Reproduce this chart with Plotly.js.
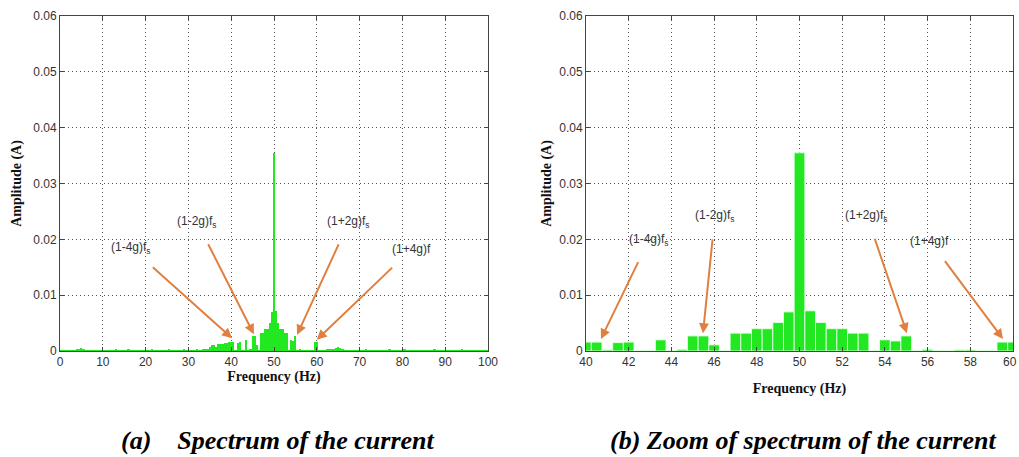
<!DOCTYPE html>
<html>
<head>
<meta charset="utf-8">
<script src="https://cdn.plot.ly/plotly-3.0.1.min.js"></script>
<style>html,body{margin:0;padding:0;background:#fff}#chart{width:1019px;height:457px}</style>
</head>
<body>
<div id="chart"></div>
<script>
// Frequency bin resolution (Hz)
const binStep = 0.5;

// Zoomed spectrum 40–60 Hz (amplitude, A)
const zoomFreq = [40,40.5,41,41.5,42,42.5,43,43.5,44,44.5,45,45.5,46,46.5,47,47.5,48,48.5,49,49.5,
                  50,50.5,51,51.5,52,52.5,53,53.5,54,54.5,55,55.5,56,56.5,57,57.5,58,58.5,59,59.5,60];
const zoomAmp = [0.0016,0.0016,0.0002,0.0015,0.0016,0.0001,0.0001,0.0020,0.0001,0.0003,
                 0.0027,0.0027,0.0011,0.0001,0.0032,0.0032,0.0040,0.0040,0.0051,0.0070,
                 0.0355,0.0072,0.0051,0.0040,0.0040,0.0032,0.0032,0.0001,0.0020,0.0018,
                 0.0027,0.0001,0.0003,0.0001,0.0001,0.0002,0.0002,0.0001,0.0001,0.0016,0.0016];

// Full spectrum, 0–39.5 Hz
const lowAmp = [0.0002,0.0002,0.0001,0.0002,0.0002,0.0002,0.0002,0.0002,0.0003,0.0003,
                0.0005,0.0004,0.0002,0.0002,0.0001,0.0002,0.0002,0.0002,0.0002,0.0002,
                0.0002,0.0001,0.0002,0.0002,0.0002,0.0002,0.0003,0.0002,0.0002,0.0002,
                0.0002,0.0002,0.0003,0.0002,0.0002,0.0002,0.0002,0.0001,0.0002,0.0002,
                0.0002,0.0002,0.0002,0.0003,0.0002,0.0002,0.0002,0.0002,0.0002,0.0002,
                0.0002,0.0003,0.0002,0.0002,0.0002,0.0002,0.0002,0.0002,0.0003,0.0002,
                0.0002,0.0002,0.0002,0.0002,0.0003,0.0002,0.0002,0.0003,0.0003,0.0004,
                0.0008,0.0010,0.0010,0.0008,0.0012,0.0013,0.0013,0.0014,0.0015,0.0017];
// Full spectrum, 60.5–100 Hz
const highAmp = [0.0002,0.0002,0.0002,0.0002,0.0003,0.0003,0.0003,0.0004,0.0005,
                 0.0008,0.0005,0.0003,0.0002,0.0002,0.0002,0.0002,0.0002,0.0002,0.0002,
                 0.0002,0.0002,0.0002,0.0003,0.0002,0.0002,0.0002,0.0002,0.0002,0.0002,
                 0.0002,0.0002,0.0002,0.0002,0.0003,0.0002,0.0002,0.0002,0.0002,0.0002,
                 0.0002,0.0003,0.0002,0.0002,0.0002,0.0002,0.0002,0.0002,0.0002,0.0002,
                 0.0002,0.0002,0.0002,0.0002,0.0002,0.0003,0.0002,0.0002,0.0002,0.0002,
                 0.0002,0.0002,0.0002,0.0002,0.0002,0.0002,0.0002,0.0002,0.0003,0.0002,
                 0.0002,0.0002,0.0002,0.0002,0.0002,0.0002,0.0002,0.0002,0.0002,0.0002,0.0002];

const leftAmp = lowAmp.concat(zoomAmp, highAmp);
const leftFreq = leftAmp.map((_, i) => i * binStep);

const leftTicks = [0,10,20,30,40,50,60,70,80,90,100];
const zoomTicks = [40,42,44,46,48,50,52,54,56,58,60];
const ampTicks = [0,0.01,0.02,0.03,0.04,0.05,0.06];
const ampTickText = ['0','0.01','0.02','0.03','0.04','0.05','0.06'];

// Annotation labels: [text, textX, textY, headX, headY]
const leftLabels = [
  ['(1-4g)f<sub>s</sub>', 16.6, 0.0185, 40.2, 0.0023],
  ['(1-2g)f<sub>s</sub>', 32.0, 0.0231, 45.3, 0.0030],
  ['(1+2g)f<sub>s</sub>', 67.5, 0.0231, 55.4, 0.0029],
  ['(1+4g)f', 82.2, 0.0183, 60.0, 0.0020]
];
const zoomLabels = [
  ['(1-4g)f<sub>s</sub>', 42.95, 0.0199, 40.7, 0.00215],
  ['(1-2g)f<sub>s</sub>', 46.04, 0.0242, 45.48, 0.0032],
  ['(1+2g)f<sub>s</sub>', 53.16, 0.0242, 55.03, 0.0032],
  ['(1+4g)f', 56.11, 0.0197, 59.53, 0.00215]
];

const green = '#22e822';
const arrowColor = '#e08040';

const traces = [
  {type:'bar', x:leftFreq, y:leftAmp, width:binStep, marker:{color:green, line:{width:0}},
   xaxis:'x', yaxis:'y', hoverinfo:'x+y'},
  {type:'bar', x:zoomFreq, y:zoomAmp, width:binStep, marker:{color:green, line:{width:1, color:'rgba(230,255,230,0.9)'}},
   xaxis:'x2', yaxis:'y2', hoverinfo:'x+y'}
];

const tickFont = {family:'Liberation Sans, Arial, sans-serif', size:12, color:'#333'};
const titleFont = {family:'Liberation Serif, Times New Roman, serif', size:14, color:'#111', weight:'bold'};
const gridDash = '1px,3px';

function xAxis(domain, range, ticks, anchor, standoff, labels) {
  return {domain, range, tickvals:ticks, ticktext:labels, anchor,
    showline:true, linecolor:'#444', linewidth:1, mirror:'allticks', ticks:'inside', ticklen:4, tickcolor:'#444',
    showgrid:true, gridcolor:'#555', griddash:gridDash, gridwidth:1, zeroline:false,
    tickfont:tickFont, title:{text:'<b>Frequency (Hz)</b>', font:titleFont, standoff}, automargin:false, fixedrange:true};
}
function yAxis(domain, anchor, standoff) {
  return {domain, range:[0,0.06], tickvals:ampTicks, ticktext:ampTickText, anchor,
    showline:true, linecolor:'#444', linewidth:1, mirror:'allticks', ticks:'inside', ticklen:4, tickcolor:'#444',
    showgrid:true, gridcolor:'#555', griddash:gridDash, gridwidth:1, zeroline:false,
    tickfont:tickFont, title:{text:'<b>Amplitude (A)</b>', font:titleFont, standoff}, automargin:false, fixedrange:true};
}

const annotations = [];
function addLabels(labels, xr, yr) {
  labels.forEach(l => {
    annotations.push({x:l[3], y:l[4], ax:l[1], ay:l[2], xref:xr, yref:yr, axref:xr, ayref:yr,
      text:l[0], showarrow:true, arrowhead:2, arrowsize:1, arrowwidth:2, arrowcolor:arrowColor,
      startstandoff:12, borderpad:3, font:{family:'Liberation Sans, Arial, sans-serif', size:12, color:'#333'}});
  });
}
addLabels(leftLabels, 'x', 'y');
addLabels(zoomLabels, 'x2', 'y2');

// last zoom tick label sits at the page edge
annotations.push({xref:'paper', yref:'paper', x:1, y:(457-362)/457, text:String(zoomTicks[zoomTicks.length-1]),
  showarrow:false, xanchor:'right', yanchor:'middle', font:tickFont});

const captionFont = {family:'Liberation Serif, Times New Roman, serif', size:26, color:'#000', weight:'bold', style:'italic'};
annotations.push({xref:'paper', yref:'paper', x:278/1019, y:(457-440)/457, text:'<b><i>(a)    Spectrum of the current</i></b>',
  showarrow:false, font:captionFont, xanchor:'center', yanchor:'middle'});
annotations.push({xref:'paper', yref:'paper', x:803/1019, y:(457-440)/457, text:'<b><i>(b) Zoom of spectrum of the current</i></b>',
  showarrow:false, font:captionFont, xanchor:'center', yanchor:'middle'});

const yDom = [1-351/457, 1-16/457];
const zoomTickLabels = zoomTicks.map((t, i) => i === zoomTicks.length-1 ? '' : String(t));
const layout = {
  width:1019, height:457, margin:{l:0,r:0,t:0,b:0}, paper_bgcolor:'#fff', plot_bgcolor:'#fff',
  showlegend:false, bargap:0,
  xaxis: xAxis([60/1019, 488/1019], [0,100], leftTicks, 'y', 2, leftTicks.map(String)),
  yaxis: yAxis(yDom, 'x', 8),
  xaxis2: xAxis([586/1019, 1013/1019], [40,60], zoomTicks, 'y2', 14, zoomTickLabels),
  yaxis2: yAxis(yDom, 'x2', 4),
  annotations
};

Plotly.newPlot('chart', traces, layout, {displayModeBar:false, staticPlot:true});
</script>
</body>
</html>
